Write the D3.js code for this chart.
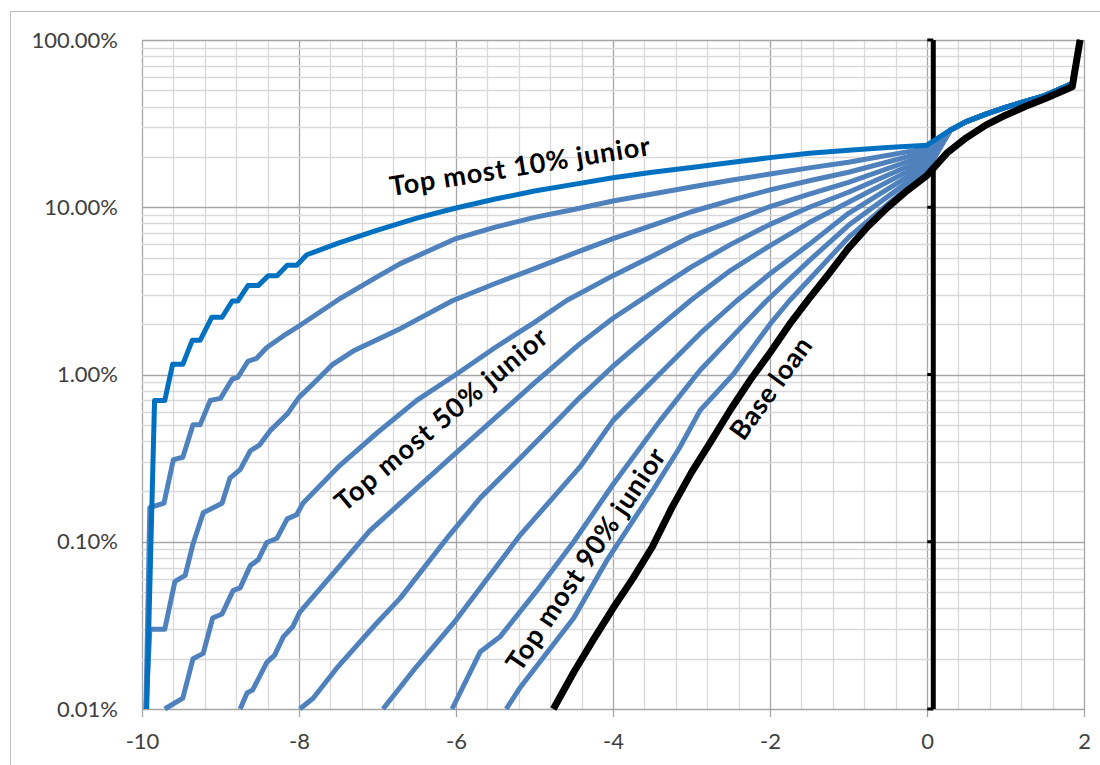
<!DOCTYPE html>
<html><head><meta charset="utf-8">
<script src="https://cdn.jsdelivr.net/npm/d3@7"></script>
<style>body{margin:0;background:#fff} svg{display:block}</style>
</head><body><svg id="c" width="1100" height="765"></svg>
<script>
// ---- data (x value, percent) ----
const xTicks = [-10, -8, -6, -4, -2, 0, 2];
const yTicks = [0.01, 0.1, 1, 10, 100];
const yTickLabels = ["0.01%", "0.10%", "1.00%", "10.00%", "100.00%"];

const blueTail = [[0.3,29],[0.5,32.5],[0.75,36],[1.0,39.5],[1.25,43],[1.5,46.5],[1.85,55],[1.95,100]];

const top10 = [[-9.94,0.01],[-9.84,0.70],[-9.71,0.70],[-9.61,1.15],[-9.48,1.15],[-9.36,1.6],[-9.26,1.6],[-9.11,2.2],[-8.98,2.2],[-8.85,2.75],[-8.78,2.75],[-8.65,3.4],[-8.52,3.4],[-8.39,3.9],[-8.28,3.9],[-8.15,4.5],[-8.03,4.5],[-7.9,5.2],[-7.5,6.1],[-7,7.3],[-6.5,8.6],[-6,9.9],[-5.5,11.2],[-5,12.5],[-4.5,13.7],[-4,15],[-3.5,16.2],[-3,17.3],[-2.5,18.5],[-2,19.8],[-1.5,21],[-1,21.9],[-0.5,22.8],[0,23.5]];
const top20 = [[-9.95,0.01],[-9.9,0.16],[-9.72,0.17],[-9.6,0.31],[-9.48,0.32],[-9.35,0.5],[-9.26,0.5],[-9.13,0.7],[-9.0,0.72],[-8.85,0.94],[-8.78,0.96],[-8.65,1.2],[-8.54,1.25],[-8.41,1.45],[-8.2,1.7],[-8,1.95],[-7.5,2.8],[-7,3.85],[-6.71,4.6],[-6,6.5],[-5.5,7.6],[-5,8.7],[-4.5,9.7],[-4,10.9],[-3.5,12.0],[-3,13.2],[-2.5,14.5],[-2,15.8],[-1.5,17.2],[-1,18.6],[0,22.5]];
const top30 = [[-9.95,0.01],[-9.9,0.03],[-9.71,0.03],[-9.58,0.058],[-9.45,0.063],[-9.35,0.097],[-9.22,0.149],[-8.98,0.17],[-8.88,0.24],[-8.75,0.27],[-8.62,0.35],[-8.5,0.38],[-8.37,0.46],[-8.15,0.58],[-8.0,0.73],[-7.82,0.88],[-7.57,1.15],[-7.31,1.38],[-7,1.62],[-6.71,1.88],[-6.04,2.77],[-5.5,3.5],[-5,4.3],[-4.5,5.3],[-4,6.5],[-3.5,7.8],[-3,9.4],[-2.5,11],[-2,12.7],[-1.5,14.4],[-1,16.2],[0,21.5]];
const top40 = [[-9.71,0.01],[-9.48,0.0116],[-9.35,0.02],[-9.22,0.0215],[-9.1,0.035],[-8.98,0.037],[-8.84,0.051],[-8.75,0.053],[-8.62,0.072],[-8.52,0.078],[-8.41,0.099],[-8.28,0.105],[-8.15,0.137],[-8.03,0.145],[-7.95,0.17],[-7.5,0.28],[-7,0.45],[-6.5,0.7],[-6,1.0],[-5.5,1.45],[-5,2.05],[-4.59,2.77],[-4,3.9],[-3.5,5.1],[-3,6.7],[-2.5,8.2],[-2,10.1],[-1.5,12],[-1,14.1],[0,20.6]];
const top50 = [[-8.75,0.01],[-8.66,0.0125],[-8.59,0.013],[-8.41,0.019],[-8.31,0.021],[-8.2,0.027],[-8.08,0.031],[-7.99,0.038],[-7.5,0.07],[-7.1,0.116],[-6.71,0.17],[-6,0.34],[-5.5,0.55],[-5,0.89],[-4.42,1.53],[-4,2.17],[-3.5,3.1],[-3,4.4],[-2.5,6.0],[-2,7.9],[-1.5,10],[-1,12.3],[0,19.7]];
const top60 = [[-7.99,0.01],[-7.82,0.0116],[-7.5,0.018],[-7,0.033],[-6.71,0.046],[-6.08,0.11],[-5.69,0.183],[-5.2,0.31],[-4.71,0.53],[-4.42,0.73],[-4,1.12],[-3.5,1.78],[-3,2.8],[-2.5,4.2],[-2,5.9],[-1.5,8.1],[-1,10.7],[0,18.8]];
const top70 = [[-6.93,0.01],[-6.5,0.018],[-6,0.034],[-5.69,0.053],[-5.18,0.11],[-4.42,0.28],[-4,0.53],[-3.5,0.91],[-2.89,1.76],[-2.42,2.77],[-2,4.0],[-1.5,6.0],[-1,9.2],[0,18]];
const top80 = [[-6.05,0.01],[-5.69,0.022],[-5.44,0.027],[-4.97,0.051],[-4.5,0.1],[-4,0.22],[-3.4,0.53],[-2.89,1.06],[-2.5,1.65],[-2.04,2.77],[-1.5,4.8],[-1,7.8],[0,17.2]];
const top90 = [[-5.36,0.01],[-5.18,0.0135],[-4.5,0.035],[-4.08,0.077],[-3.5,0.2],[-3.15,0.366],[-2.89,0.61],[-2.47,1.0],[-2,2.0],[-1.75,2.77],[-1.5,3.7],[-1,6.6],[0,16.5]];
const baseLoan = [[-4.76,0.01],[-4.5,0.0166],[-4.25,0.026],[-4.0,0.04],[-3.75,0.06],[-3.5,0.093],[-3.25,0.16],[-3.0,0.26],[-2.75,0.4],[-2.5,0.62],[-2.25,0.93],[-2.0,1.35],[-1.75,2.0],[-1.5,2.85],[-1.25,4.0],[-1.0,5.7],[-0.75,7.7],[-0.5,10],[-0.25,12.6],[0,15.5],[0.1,17.5],[0.25,21],[0.5,26],[0.75,31],[1,35.5],[1.25,40],[1.5,44.5],[1.85,52.5],[1.95,100]];
const verticalLine = [[0.08,0.01],[0.08,0.1],[0.08,1],[0.08,10],[0.08,100]];

const labels = [
  {text:"Top most 10% junior", x:-5.19, y:17.85, angle:-9, len:263},
  {text:"Top most 50% junior", x:-6.2, y:0.545, angle:-40, len:268},
  {text:"Top most 90% junior", x:-4.36, y:0.079, angle:-56, len:262},
  {text:"Base loan", x:-2.0, y:0.835, angle:-54, len:119}
];

// ---- drawing ----
const svg = d3.select("#c");
const L = 142, R = 1084, T = 40, B = 709;
const x = d3.scaleLinear().domain([-10, 2]).range([L, R]);
const y = d3.scaleLog().domain([0.01, 100]).range([B, T]);

// outer chart border
svg.append("rect").attr("x",10.5).attr("y",11.5).attr("width",1100).attr("height",800)
  .attr("fill","none").attr("stroke","#bfbfbf").attr("stroke-width",1);

const grid = svg.append("g");
d3.range(0, 31).forEach(i => {
  const v = -10 + i * 0.4;
  const major = Math.abs(v / 2 - Math.round(v / 2)) < 1e-6;
  grid.append("line").attr("x1", Math.round(x(v))+0.5).attr("x2", Math.round(x(v))+0.5)
    .attr("y1", T).attr("y2", B)
    .attr("stroke", major ? "#a6a6a6" : "#d9d9d9").attr("stroke-width", 1.3);
});
yTicks.slice(0, 4).forEach(d => {
  for (let k = 2; k <= 9; k++) {
    grid.append("line").attr("x1", L).attr("x2", R)
      .attr("y1", Math.round(y(d*k))+0.5).attr("y2", Math.round(y(d*k))+0.5)
      .attr("stroke", "#d9d9d9").attr("stroke-width", 1.3);
  }
});
yTicks.forEach(d => {
  grid.append("line").attr("x1", L).attr("x2", R)
    .attr("y1", Math.round(y(d))+0.5).attr("y2", Math.round(y(d))+0.5)
    .attr("stroke", "#a6a6a6").attr("stroke-width", 1.3);
});

// axes
const xAxis = d3.axisBottom(x).tickValues(xTicks).tickSize(8).tickFormat(d3.format("d"));
const gx = svg.append("g").attr("transform", `translate(0,${B})`).call(xAxis);
gx.select(".domain").remove();
gx.selectAll(".tick line").attr("stroke", "#a6a6a6").attr("stroke-width", 1.3);
gx.selectAll(".tick text").attr("font-family", "Lato, 'Open Sans', sans-serif").attr("font-size", 22)
  .attr("fill", "#404040").attr("dy", "1.3em").text(d => d);

const yAxis = d3.axisLeft(y).tickValues(yTicks).tickSize(0).tickFormat((d, i) => yTickLabels[i]);
const gy = svg.append("g").attr("transform", `translate(${L},0)`).call(yAxis);
gy.select(".domain").remove();
gy.selectAll(".tick text").attr("font-family", "Lato, 'Open Sans', sans-serif").attr("font-size", 22)
  .attr("fill", "#404040").attr("x", -24);

const line = d3.line().x(d => x(d[0])).y(d => y(d[1]));
const plot = svg.append("g");

// vertical reference line at x≈0.08
plot.append("path").datum(verticalLine).attr("d", line).attr("fill", "none")
  .attr("stroke", "#000").attr("stroke-width", 5);
plot.selectAll(".vt").data(verticalLine).enter().append("line")
  .attr("x1", d => x(d[0]) - 6).attr("x2", d => x(d[0]))
  .attr("y1", d => y(d[1])).attr("y2", d => y(d[1]))
  .attr("stroke", "#000").attr("stroke-width", 3);

const blueSeries = [top90, top80, top70, top60, top50, top40, top30, top20];
blueSeries.forEach(s => {
  plot.append("path").datum(s.concat(blueTail)).attr("d", line).attr("fill", "none")
    .attr("stroke", "#4f81bd").attr("stroke-width", 5).attr("stroke-linejoin", "round");
});
plot.append("path").datum(top10.concat(blueTail)).attr("d", line).attr("fill", "none")
  .attr("stroke", "#0070c0").attr("stroke-width", 5).attr("stroke-linejoin", "round");
plot.append("path").datum(baseLoan).attr("d", line).attr("fill", "none")
  .attr("stroke", "#000").attr("stroke-width", 7).attr("stroke-linejoin", "round");

// labels
labels.forEach(l => {
  svg.append("text").attr("transform", `translate(${x(l.x)},${y(l.y)}) rotate(${l.angle})`)
    .attr("text-anchor", "middle").attr("dominant-baseline", "central")
    .attr("font-family", "Lato, 'Open Sans', sans-serif").attr("font-weight", 700)
    .attr("font-size", 27).attr("fill", "#000")
    .attr("textLength", l.len).attr("lengthAdjust", "spacing").text(l.text);
});
</script></body></html>
